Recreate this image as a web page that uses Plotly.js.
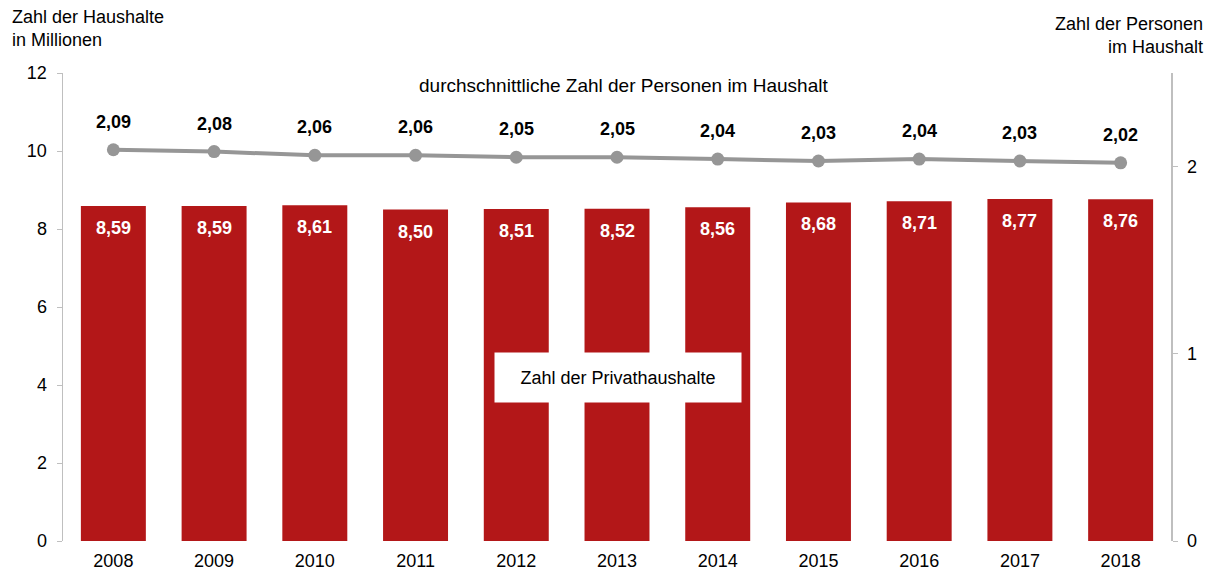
<!DOCTYPE html>
<html>
<head>
<meta charset="utf-8">
<script src="https://cdn.plot.ly/plotly-3.0.1.min.js"></script>
<style>html,body{margin:0;padding:0;background:#fff;}#chart{width:1214px;height:572px;}</style>
</head>
<body>
<div id="chart"></div>
<script>
const years = ["2008","2009","2010","2011","2012","2013","2014","2015","2016","2017","2018"];
const households = [8.59, 8.59, 8.61, 8.50, 8.51, 8.52, 8.56, 8.68, 8.71, 8.77, 8.76];
const personsPerHousehold = [2.09, 2.08, 2.06, 2.06, 2.05, 2.05, 2.04, 2.03, 2.04, 2.03, 2.02];
const leftTicks = [0, 2, 4, 6, 8, 10, 12];
const rightTicks = [0, 1, 2];

const fmt = v => v.toFixed(2).replace('.', ',');
const FONT = 'Liberation Sans, Arial, sans-serif';
const barColor = '#b31718';
const lineColor = '#969696';
const axisColor = '#bfbfbf';

const bars = {
  type: 'bar', x: years, y: households, yaxis: 'y',
  marker: {color: barColor}, width: 0.645, hoverinfo: 'skip'
};
const line = {
  type: 'scatter', mode: 'lines+markers', x: years, y: personsPerHousehold, yaxis: 'y2',
  line: {color: lineColor, width: 4}, marker: {color: lineColor, size: 13}, hoverinfo: 'skip'
};

const annotations = [];
years.forEach((yr, i) => {
  annotations.push({x: i, y: households[i], xref: 'x', yref: 'y', yshift: -22, showarrow: false,
    text: '<b>' + fmt(households[i]) + '</b>', font: {family: FONT, size: 18, color: '#ffffff'}});
  annotations.push({x: i, y: personsPerHousehold[i], xref: 'x', yref: 'y2', yshift: 28, showarrow: false,
    text: '<b>' + fmt(personsPerHousehold[i]) + '</b>', font: {family: FONT, size: 18, color: '#000000'}});
});
annotations.push({xref: 'paper', yref: 'paper', x: 0.506, y: 0.974, yanchor: 'middle', showarrow: false,
  text: 'durchschnittliche Zahl der Personen im Haushalt', font: {family: FONT, size: 19, color: '#000'}});
annotations.push({xref: 'paper', yref: 'y', x: 0.501, y: 4.19, showarrow: false,
  text: 'Zahl der Privathaushalte', bgcolor: '#ffffff', width: 244, height: 47,
  font: {family: FONT, size: 18, color: '#000'}});
annotations.push({xref: 'paper', yref: 'paper', x: -0.048, xanchor: 'left', y: 1.146, yanchor: 'top', showarrow: false, align: 'left',
  text: 'Zahl der Haushalte<br>in Millionen', font: {family: FONT, size: 18, color: '#000'}});
annotations.push({xref: 'paper', yref: 'paper', x: 1.031, xanchor: 'right', y: 1.131, yanchor: 'top', showarrow: false, align: 'right',
  text: 'Zahl der Personen<br>im Haushalt', font: {family: FONT, size: 18, color: '#000'}});

const layout = {
  width: 1214, height: 572,
  margin: {l: 63, r: 43, t: 73, b: 31},
  paper_bgcolor: '#fff', plot_bgcolor: '#fff',
  showlegend: false,
  font: {family: FONT, size: 18, color: '#000'},
  xaxis: {type: 'category', range: [-0.5, 10.5], showgrid: false, zeroline: false, showline: false,
    ticks: '', tickfont: {size: 18}, ticklabelstandoff: 7, fixedrange: true},
  yaxis: {range: [0, 12], tickvals: leftTicks, showgrid: false, zeroline: false,
    showline: true, linecolor: axisColor, linewidth: 1.5, ticks: 'outside', ticklen: 5, tickcolor: axisColor,
    tickfont: {size: 18}, ticklabelstandoff: 6},
  yaxis2: {range: [0, 2.5], tickvals: rightTicks, overlaying: 'y', side: 'right', showgrid: false, zeroline: false,
    showline: true, linecolor: axisColor, linewidth: 1.5, ticks: 'outside', ticklen: 5, tickcolor: axisColor,
    tickfont: {size: 18}, ticklabelstandoff: 6},
  annotations: annotations
};

Plotly.newPlot('chart', [bars, line], layout, {displayModeBar: false, staticPlot: true});
</script>
</body>
</html>
